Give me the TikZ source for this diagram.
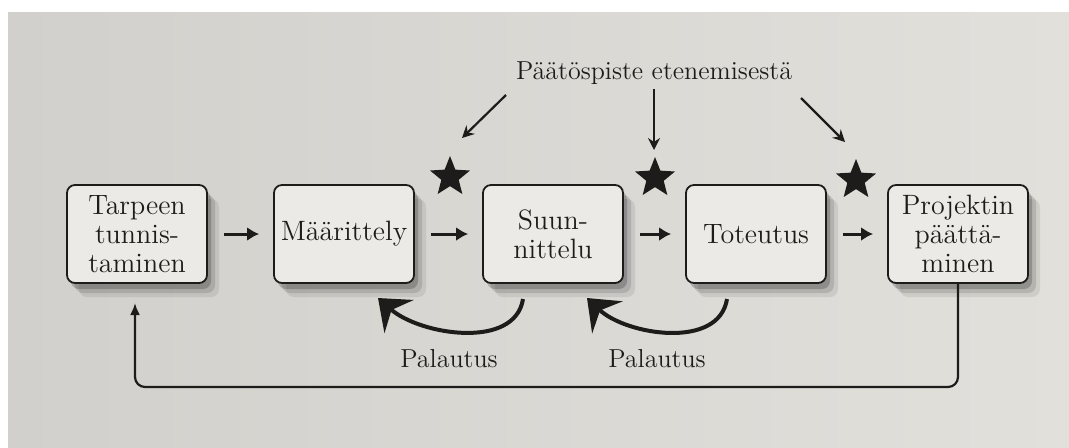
\documentclass[tikz,border=0pt]{standalone}
\usetikzlibrary{arrows.meta,shapes.geometric,shadows}
\definecolor{paper}{RGB}{226,224,219}
\definecolor{paperdk}{RGB}{210,208,204}
\definecolor{boxfill}{RGB}{235,234,230}
\definecolor{ink}{RGB}{30,28,27}
\tikzset{pxgrid/.style={x=0.5pt,y=-0.5pt,font=\fontsize{14}{14.5}\selectfont,text=ink}}
\tikzset{phase/.style={draw=ink,line width=0.9pt,rounded corners=4pt,fill=boxfill,align=center,
    minimum width=70pt,minimum height=49pt,inner sep=2pt,
    drop shadow={shadow xshift=6pt,shadow yshift=-7pt,fill=black,opacity=0.08},
    drop shadow={shadow xshift=4pt,shadow yshift=-5pt,fill=black,opacity=0.12},
    drop shadow={shadow xshift=2pt,shadow yshift=-3pt,fill=black,opacity=0.2}}}
\tikzset{gate/.style={star,star points=5,star point ratio=2.3,fill=ink,minimum size=21pt,inner sep=0pt}}
\tikzset{flow/.style={draw=ink,line width=1.5pt,-{Latex[length=6pt,width=7pt]},shorten <=8pt,shorten >=7pt}}
\tikzset{pointer/.style={draw=ink,line width=1.1pt,-{Stealth[length=6pt,width=6pt,inset=2pt]}}}
\tikzset{retour/.style={draw=ink,line width=2pt,-{Stealth[length=14pt,width=22pt,inset=5pt]}}}
\tikzset{note/.style={font=\fontsize{13}{15}\selectfont,anchor=base}}

\begin{document}
\begin{tikzpicture}[pxgrid]
    \useasboundingbox (0,0) rectangle (1069,447);
    \fill[white] (0,0) rectangle (1069,447);
    \shade[left color=paperdk,right color=paper] (8,12) rectangle (1069,447); % page
    \def\r{234} % row of the phases
    \node[phase] (tarve) at (137,\r) {Tarpeen\\tunnis-\\taminen};
    \node[phase] (maar) at (344,\r) {Määrittely};
    \node[phase] (suun) at (553,\r) {Suun-\\nittelu};
    \node[phase] (tot) at (756,\r) {Toteutus};
    \node[phase] (paat) at (958,\r) {Projektin\\päättä-\\minen};
    \foreach \a/\b in {tarve/maar,maar/suun,suun/tot,tot/paat} \draw[flow] (\a) -- (\b); % forward arrows
    % decision points
    \node[gate] (st1) at (450,177) {};
    \node[gate] (st2) at (655,178) {};
    \node[gate] (st3) at (856,180) {};
    \node[note] (lbl) at (654,79) {Päätöspiste etenemisestä};
    \coordinate (d1s) at (506,95);  \coordinate (d1e) at (462,138);
    \coordinate (d2s) at (654,89);  \coordinate (d2e) at (654,150);
    \coordinate (d3s) at (801,98);  \coordinate (d3e) at (845,142);
    \foreach \i in {1,2,3} \draw[pointer] (d\i s) -- (d\i e);
    % feedback arcs
    \coordinate (r1s) at (523,299); \coordinate (r1e) at (378,298);
    \coordinate (r2s) at (727,299); \coordinate (r2e) at (587,298);
    \draw[retour] (r1s) .. controls (515,350) and (420,335) .. (r1e);
    \draw[retour] (r2s) .. controls (719,350) and (626,335) .. (r2e);
    \node[note] (pal1) at (449,367) {Palautus};
    \node[note] (pal2) at (657,367) {Palautus};
    % back to start
    \coordinate (low) at (0,387);
    \coordinate (ret) at (135,303);
    \draw[draw=ink,line width=1.1pt,rounded corners=5pt,-{Latex[length=6pt,width=5pt]}]
      (paat.south) -- (paat.south |- low) -- (ret |- low) -- (ret);
\end{tikzpicture}
\end{document}
